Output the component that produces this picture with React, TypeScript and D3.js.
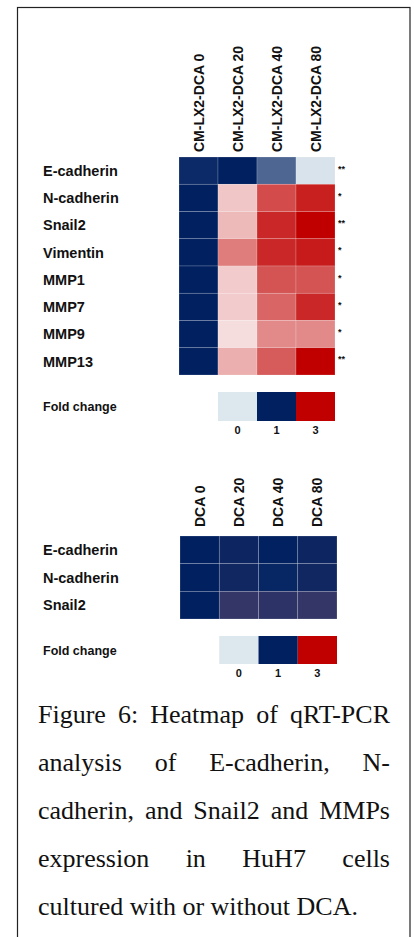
import React, { useEffect, useRef } from 'react';
import * as d3 from 'd3';

// qRT-PCR fold changes, panel 1 (CM-LX2-DCA)
const genes1 = ['E-cadherin', 'N-cadherin', 'Snail2', 'Vimentin', 'MMP1', 'MMP7', 'MMP9', 'MMP13'];
const groups1 = ['CM-LX2-DCA 0', 'CM-LX2-DCA 20', 'CM-LX2-DCA 40', 'CM-LX2-DCA 80'];
const fold1 = [
    [0.95, 1.0, 0.65, 0.02],
    [1.0, 1.45, 2.41, 2.76],
    [1.0, 1.55, 2.69, 3.0],
    [1.0, 2.03, 2.69, 2.79],
    [1.0, 1.4, 2.35, 2.35],
    [1.0, 1.4, 2.21, 2.69],
    [1.0, 1.27, 1.92, 1.92],
    [1.0, 1.63, 2.29, 3.0],
];
const stars1 = ['**', '*', '**', '*', '*', '*', '*', '**'];

// panel 2 (DCA alone)
const genes2 = ['E-cadherin', 'N-cadherin', 'Snail2'];
const groups2 = ['DCA 0', 'DCA 20', 'DCA 40', 'DCA 80'];
const fold2 = [
    [1.0, 1.06, 1.01, 1.06],
    [1.0, 1.07, 0.97, 1.07],
    [1.0, 1.23, 1.2, 1.23],
];

const legendValues = [0, 1, 3];

const captionLines = [
    'Figure 6: Heatmap of qRT-PCR',
    'analysis of E-cadherin, N-',
    'cadherin, and Snail2 and MMPs',
    'expression in HuH7 cells',
    'cultured with or without DCA.',
];

const NAVY = '#002060';
const RED = '#c00000';
const LIGHT = '#dde7ee';

const colorA = d3.scaleLinear<string>()
    .domain([0, 1, 1.000001, 3])
    .range([LIGHT, NAVY, '#ffffff', RED])
    .clamp(true);

const colorB = d3.scaleLinear<string>()
    .domain([0, 1, 2, 3])
    .range([LIGHT, NAVY, '#e08080', RED])
    .clamp(true);

const SANS = '"Liberation Sans", Arial, sans-serif';
const SERIF = '"Liberation Serif", "Times New Roman", serif';

interface HeatProps {
    genes: string[];
    groups: string[];
    values: number[][];
    stars?: string[];
    color: (v: number) => string;
    x: [number, number];
    y: [number, number];
    labelBottom: number;
    legendY: [number, number];
}

const Heatmap: React.FC<HeatProps> = ({ genes, groups, values, stars, color, x, y, labelBottom, legendY }) => {
    const xScale = d3.scaleBand<string>().domain(groups).range(x);
    const yScale = d3.scaleBand<string>().domain(genes).range(y);
    const bw = xScale.bandwidth();
    const bh = yScale.bandwidth();

    // legend boxes share the last three columns
    const legX = d3.scaleBand<string>().domain(legendValues.map(String)).range([x[0] + bw, x[1]]);

    return (
        <g>
            {groups.map(g => (
                <text
                    key={g}
                    transform={`translate(${xScale(g)! + bw / 2},${labelBottom}) rotate(-90)`}
                    dy="0.36em"
                    fontFamily={SANS}
                    fontWeight="bold"
                    fontSize={14}
                    fill="#111"
                >{g}</text>
            ))}
            {genes.map((gene, i) => (
                <g key={gene}>
                    <text
                        x={43}
                        y={yScale(gene)! + bh / 2}
                        dy="0.36em"
                        fontFamily={SANS}
                        fontWeight="bold"
                        fontSize={14.5}
                        fill="#111"
                    >{gene}</text>
                    {groups.map((g, j) => (
                        <rect
                            key={g}
                            x={xScale(g)}
                            y={yScale(gene)}
                            width={bw}
                            height={bh}
                            fill={color(values[i][j])}
                            stroke="rgba(255,255,255,0.3)"
                            strokeWidth={0.6}
                        />
                    ))}
                    {stars && (
                        <text
                            x={x[1] + 3}
                            y={yScale(gene)! + bh / 2 + 1}
                            fontFamily={SANS}
                            fontWeight="bold"
                            fontSize={9}
                            fill="#111"
                        >{stars[i]}</text>
                    )}
                </g>
            ))}
            <text
                x={43}
                y={(legendY[0] + legendY[1]) / 2}
                dy="0.36em"
                fontFamily={SANS}
                fontWeight="bold"
                fontSize={12.5}
                fill="#111"
            >Fold change</text>
            {legendValues.map(v => (
                <g key={v}>
                    <rect
                        x={legX(String(v))}
                        y={legendY[0]}
                        width={legX.bandwidth()}
                        height={legendY[1] - legendY[0]}
                        fill={color(v)}
                    />
                    <text
                        x={legX(String(v))! + legX.bandwidth() / 2}
                        y={legendY[1] + 13}
                        textAnchor="middle"
                        fontFamily={SANS}
                        fontWeight="bold"
                        fontSize={11}
                        fill="#111"
                    >{v}</text>
                </g>
            ))}
        </g>
    );
};

const Caption: React.FC = () => {
    const ref = useRef<SVGGElement>(null);

    useEffect(() => {
        if (!ref.current) return;
        const g = d3.select(ref.current);
        g.selectAll('*').remove();
        const left = 38;
        const right = 390;
        const top = 723;
        const lineH = 48;

        captionLines.forEach((line, li) => {
            const words = line.split(' ');
            const y = top + li * lineH;
            const nodes = words.map(w =>
                g.append('text')
                    .attr('y', y)
                    .attr('font-family', SERIF)
                    .attr('font-size', 26)
                    .attr('fill', '#111')
                    .text(w)
            );
            const widths = nodes.map(n => (n.node() as SVGTextElement).getComputedTextLength());
            const total = d3.sum(widths);
            const last = li === captionLines.length - 1;
            const gap = last || words.length < 2 ? 6.5 : (right - left - total) / (words.length - 1);
            let cx = left;
            nodes.forEach((n, k) => {
                n.attr('x', cx);
                cx += widths[k] + gap;
            });
        });
    }, []);

    return <g ref={ref} />;
};

const App: React.FC = () => {
    return (
        <svg
            width={414}
            height={937}
            style={{ position: 'absolute', left: 0, top: 0, background: '#fff' }}
        >
            <rect x={17.5} y={7.5} width={392.5} height={1000} fill="#fff" stroke="#222" strokeWidth={1.2} />
            <Heatmap
                genes={genes1}
                groups={groups1}
                values={fold1}
                stars={stars1}
                color={colorA}
                x={[179, 335]}
                y={[157, 375]}
                labelBottom={152}
                legendY={[392, 421]}
            />
            <Heatmap
                genes={genes2}
                groups={groups2}
                values={fold2}
                color={colorB}
                x={[180, 337]}
                y={[536, 619]}
                labelBottom={527}
                legendY={[636, 664]}
            />
            <Caption />
        </svg>
    );
};

export default App;
